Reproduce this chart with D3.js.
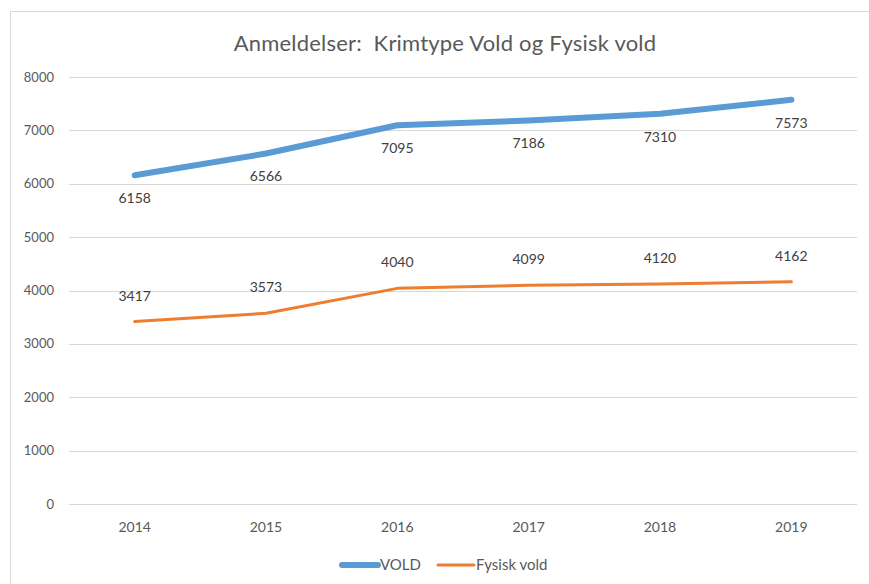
<!DOCTYPE html>
<html>
<head>
<meta charset="utf-8">
<script src="https://cdn.jsdelivr.net/npm/d3@7"></script>
<style>
  body { margin: 0; background: #fff; }
  svg { display: block; font-family: Lato, "Open Sans", sans-serif; }
</style>
</head>
<body>
<script>
// data
const years = ["2014", "2015", "2016", "2017", "2018", "2019"];
const vold = [6158, 6566, 7095, 7186, 7310, 7573];
const fysiskVold = [3417, 3573, 4040, 4099, 4120, 4162];
const yTicks = [0, 1000, 2000, 3000, 4000, 5000, 6000, 7000, 8000];

const width = 869, height = 584;
const svg = d3.select("body").append("svg")
    .attr("width", width)
    .attr("height", height);

// chart frame (runs off right/bottom like the screenshot)
svg.append("rect")
    .attr("x", 10.5).attr("y", 11.5)
    .attr("width", 880).attr("height", 600)
    .attr("fill", "none")
    .attr("stroke", "#d9d9d9");

const x = d3.scaleBand().domain(years).range([69, 857]);
const y = d3.scaleLinear().domain([0, 8000]).range([504, 77]);

// gridlines
svg.append("g")
  .selectAll("line")
  .data(yTicks)
  .join("line")
    .attr("x1", 69).attr("x2", 857)
    .attr("y1", d => Math.round(y(d)) + 0.5)
    .attr("y2", d => Math.round(y(d)) + 0.5)
    .attr("stroke", "#d9d9d9")
    .attr("stroke-width", 1);

// y tick labels
svg.append("g")
  .selectAll("text")
  .data(yTicks)
  .join("text")
    .attr("x", 54)
    .attr("y", d => y(d))
    .attr("dy", "0.35em")
    .attr("text-anchor", "end")
    .attr("fill", "#595959")
    .attr("font-size", 13)
    .text(d => d);

// x tick labels
svg.append("g")
  .selectAll("text")
  .data(years)
  .join("text")
    .attr("x", d => x(d) + x.bandwidth() / 2)
    .attr("y", 527)
    .attr("dy", "0.35em")
    .attr("text-anchor", "middle")
    .attr("fill", "#595959")
    .attr("font-size", 14)
    .text(d => d);

const cx = (d, i) => x(years[i]) + x.bandwidth() / 2;
const line = d3.line().x(cx).y(d => y(d));

svg.append("path")
    .attr("d", line(fysiskVold))
    .attr("fill", "none")
    .attr("stroke", "#ED7D31")
    .attr("stroke-width", 3)
    .attr("stroke-linecap", "round")
    .attr("stroke-linejoin", "round");

svg.append("path")
    .attr("d", line(vold))
    .attr("fill", "none")
    .attr("stroke", "#5B9BD5")
    .attr("stroke-width", 6)
    .attr("stroke-linecap", "round")
    .attr("stroke-linejoin", "round");

// data labels
svg.append("g")
  .selectAll("text")
  .data(vold)
  .join("text")
    .attr("x", cx)
    .attr("y", d => y(d) + 23)
    .attr("dy", "0.35em")
    .attr("text-anchor", "middle")
    .attr("fill", "#404040")
    .attr("font-size", 14)
    .text(d => d);

svg.append("g")
  .selectAll("text")
  .data(fysiskVold)
  .join("text")
    .attr("x", cx)
    .attr("y", d => y(d) - 26)
    .attr("dy", "0.35em")
    .attr("text-anchor", "middle")
    .attr("fill", "#404040")
    .attr("font-size", 14)
    .text(d => d);

// title
svg.append("text")
    .attr("x", 445).attr("y", 43)
    .attr("dy", "0.35em")
    .attr("text-anchor", "middle")
    .attr("fill", "#595959")
    .attr("font-size", 22)
    .attr("letter-spacing", 0.2)
    .text("Anmeldelser:  Krimtype Vold og Fysisk vold")
    .attr("xml:space", "preserve")
    .style("white-space", "pre");

// legend
const legend = [
  {name: "VOLD", color: "#5B9BD5", w: 6, x: 342},
  {name: "Fysisk vold", color: "#ED7D31", w: 3, x: 438}
];
const lg = svg.append("g").selectAll("g").data(legend).join("g");
lg.append("line")
    .attr("x1", d => d.x).attr("x2", d => d.x + 36)
    .attr("y1", 565).attr("y2", 565)
    .attr("stroke", d => d.color)
    .attr("stroke-width", d => d.w)
    .attr("stroke-linecap", "round");
lg.append("text")
    .attr("x", d => d.x + 38).attr("y", 565)
    .attr("dy", "0.35em")
    .attr("fill", "#595959")
    .attr("font-size", 15)
    .text(d => d.name);
</script>
</body>
</html>
